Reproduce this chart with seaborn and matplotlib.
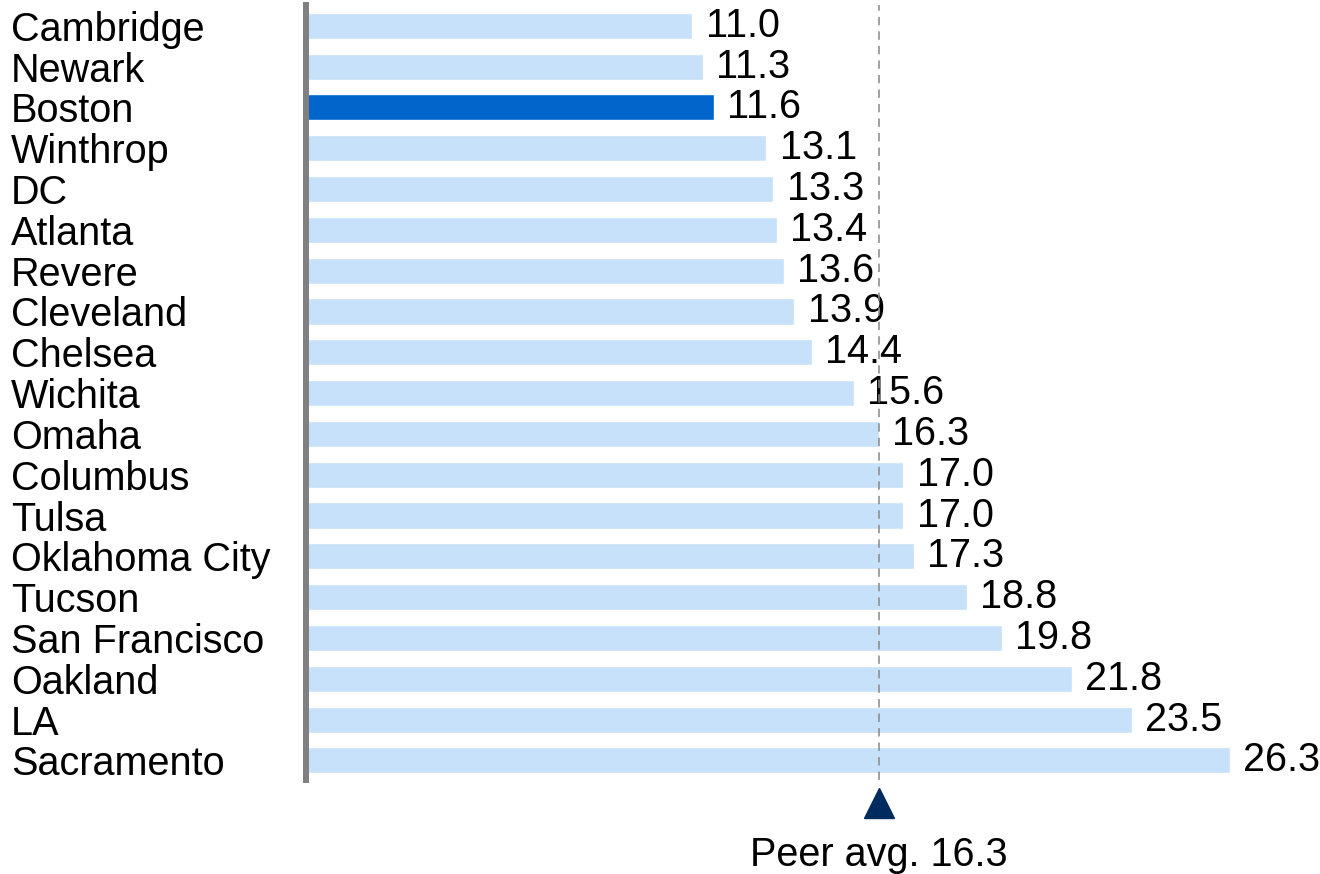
import matplotlib
matplotlib.use("Agg")
import matplotlib.pyplot as plt
import matplotlib.transforms as mtransforms
import seaborn as sns

# data
cities = ["Cambridge", "Newark", "Boston", "Winthrop", "DC", "Atlanta", "Revere",
          "Cleveland", "Chelsea", "Wichita", "Omaha", "Columbus", "Tulsa",
          "Oklahoma City", "Tucson", "San Francisco", "Oakland", "LA", "Sacramento"]
values = [11.0, 11.3, 11.6, 13.1, 13.3, 13.4, 13.6, 13.9, 14.4, 15.6, 16.3,
          17.0, 17.0, 17.3, 18.8, 19.8, 21.8, 23.5, 26.3]
highlight = "Boston"
peer_avg = 16.3

light_blue = "#c8e1fa"
dark_blue = "#0066cc"
navy = "#002b5e"

sns.set_style("white")
plt.rcParams["font.family"] = ["Liberation Sans", "DejaVu Sans"]
fs = 28.5

fig = plt.figure(figsize=(13.2, 8.74), dpi=100)
ax = fig.add_axes([306 / 1320, 94 / 874, 1013.6 / 1320, 775 / 874])

palette = {c: (dark_blue if c == highlight else light_blue) for c in cities}
sns.barplot(x=values, y=cities, hue=cities, palette=palette, legend=False,
            orient="h", width=0.64, saturation=1, ax=ax)

ax.set_xlim(0, 28.85)
ax.set_ylim(18.48, -0.51)
ax.set_xlabel("")
ax.set_ylabel("")
ax.set_xticks([])

# city labels left-aligned at the figure edge
ax.tick_params(axis="y", length=0, pad=212.4, labelsize=fs, labelcolor="black")
for lab in ax.get_yticklabels():
    lab.set_ha("left")

for side in ["top", "right", "bottom"]:
    ax.spines[side].set_visible(False)
ax.spines["left"].set_color("#808080")
ax.spines["left"].set_linewidth(4.3)

# value labels
for i, v in enumerate(values):
    ax.annotate(f"{v:.1f}", xy=(v, i), xytext=(9.6, 0), textcoords="offset points",
                ha="left", va="center", fontsize=fs, color="black")

# peer average marker
ax.axvline(peer_avg, color="#888888", lw=1.1, linestyle=(0, (5.5, 4)), zorder=3)
trans = mtransforms.blended_transform_factory(ax.transData, ax.transAxes)
ax.plot([peer_avg], [-0.0297], marker="^", markersize=22, color=navy,
        transform=trans, clip_on=False)
ax.text(peer_avg, -0.111, f"Peer avg. {peer_avg:.1f}", transform=trans,
        ha="center", va="baseline", fontsize=fs, color="black")

fig.savefig("out.png", dpi=100)
